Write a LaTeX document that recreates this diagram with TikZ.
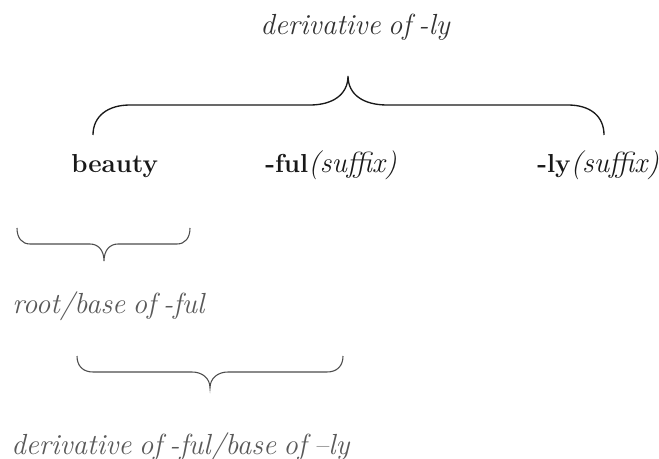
\documentclass[tikz,border=0pt]{standalone}
\usepackage{fontspec}
\usepackage{tikz}
\usetikzlibrary{positioning}

\newcommand{\bfs}{\fontsize{19.5}{23}\selectfont\bfseries}
\newcommand{\its}{\fontsize{21.8}{26}\selectfont\itshape\spaceskip=.25em\relax}

\begin{document}
\begin{tikzpicture}[x=0.75pt, y=-0.75pt,
    word/.style={inner sep=0pt, anchor=base west, text=black!90},
    note/.style={word, font=\its, text=black!65},
    brc/.style={draw=black!90, line width=1pt},
    brcg/.style={draw=black!70, line width=0.8pt}
]
\useasboundingbox (0,0) rectangle (659,459);

\node[word, anchor=base, text=black!80, font=\its] (top) at (355,35) {derivative of -ly};
\node[word] (beauty) at (71,173) {\bfs beauty};
\node[word] (ful) at (265,173) {{\bfs -ful}{\its(suffix)}};
\node[word] (ly) at (537,173) {{\bfs -ly}{\its(suffix)}};
\node[note] (root) at (12,313) {root/base of -ful};
\node[note] (deriv) at (11,454) {derivative of -ful/base of --ly};

% brace over the whole word
\draw[brc] (93,135) .. controls (93,116) and (108,105) .. (130,105) -- (310,105)
    .. controls (332,105) and (348,95) .. (348,76)
    .. controls (348,95) and (364,105) .. (387,105) -- (568,105)
    .. controls (590,105) and (604,116) .. (604,135);

% brace under beauty
\draw[brcg] (17,228) .. controls (17,238) and (22,244) .. (30,244) -- (90,244)
    .. controls (98,244) and (104,250) .. (104,261)
    .. controls (104,250) and (110,244) .. (118,244) -- (177,244)
    .. controls (185,244) and (190,238) .. (190,228);

% brace under beauty + -ful
\draw[brcg] (77,356) .. controls (77,366) and (83,372) .. (93,372) -- (192,372)
    .. controls (202,372) and (210,378) .. (210,388)
    .. controls (210,378) and (218,372) .. (228,372) -- (327,372)
    .. controls (337,372) and (343,366) .. (343,356);
\end{tikzpicture}
\end{document}
